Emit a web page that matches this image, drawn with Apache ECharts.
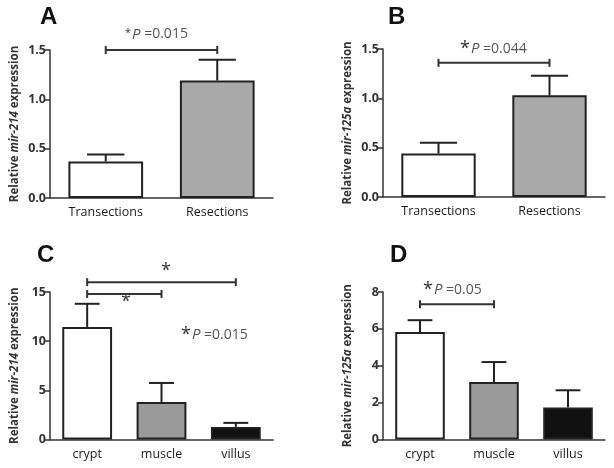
<!DOCTYPE html>
<html><head><meta charset="utf-8">
<script src="https://cdn.jsdelivr.net/npm/echarts@6/dist/echarts.min.js"></script>
<style>html,body{margin:0;padding:0;background:#fff}#c{width:614px;height:468px}</style>
</head><body><div id="c"></div>
<script>
// ---- data ----
const catsTop = ['Transections', 'Resections'];
const catsBottom = ['crypt', 'muscle', 'villus'];
const meanA = [0.37, 1.19];
const semA = [0.07, 0.21];
const meanB = [0.44, 1.03];
const semB = [0.11, 0.20];
const meanC = [11.45, 3.82, 1.28];
const semC = [2.35, 1.93, 0.41];
const meanD = [5.83, 3.12, 1.73];
const semD = [0.64, 1.08, 0.94];
const ticksTop = { min: 0, max: 1.5, interval: 0.5 };
const ticksC = { min: 0, max: 15, interval: 5 };
const ticksD = { min: 0, max: 8, interval: 2 };
// significance brackets: [fromCategory, toCategory, yLevel]
const brA = [[0, 1, 1.5]];
const brB = [[0, 1, 1.36]];
const brC = [[0, 2, 16.0], [0, 1, 14.8]];
const brD = [[0, 1, 7.33]];
const fillTop = ['#ffffff', '#a9a9a9'];
const fillBottom = ['#ffffff', '#9a9a9a', '#111111'];

const FONT = '"Open Sans", "Liberation Sans", sans-serif';
const grids = [
  { left: 50, top: 50, width: 223, height: 148 },
  { left: 383, top: 49, width: 222, height: 148 },
  { left: 50, top: 292, width: 223, height: 147.5 },
  { left: 383, top: 292, width: 222, height: 147.5 }
];
function xAx(i, cats) {
  return { type: 'category', gridIndex: i, data: cats, boundaryGap: true,
    axisLine: { lineStyle: { color: '#333', width: 1.5 } }, axisTick: { show: false },
    axisLabel: { color: '#1a1a1a', fontSize: 12.5, fontFamily: FONT, margin: 8 } };
}
function yAx(i, t, fmt, gene) {
  return { type: 'value', gridIndex: i, min: t.min, max: t.max, interval: t.interval,
    splitLine: { show: false },
    axisLine: { show: true, lineStyle: { color: '#333', width: 1.5 } },
    axisTick: { show: true, length: 5, lineStyle: { color: '#333', width: 1.5 } },
    axisLabel: { color: '#333', fontSize: 12.5, fontWeight: 'bold', fontFamily: FONT, margin: 4, formatter: fmt },
    name: '{n|Relative }{i|' + gene + '}{n| expression}', nameLocation: 'middle', nameRotate: 90, nameGap: 29,
    nameTextStyle: { rich: {
      n: { fontSize: 11.5, fontWeight: 'bold', color: '#333', fontFamily: FONT },
      i: { fontSize: 11.5, fontWeight: 'bold', fontStyle: 'italic', color: '#333', fontFamily: FONT } } } };
}
function bars(i, vals, fills) {
  return { type: 'bar', xAxisIndex: i, yAxisIndex: i, barWidth: '67%', z: 2,
    data: vals.map((v, k) => ({ value: v, itemStyle: { color: fills[k] } })),
    itemStyle: { borderColor: '#222', borderWidth: 2 } };
}
function errs(i, means, sems) {
  return { type: 'custom', xAxisIndex: i, yAxisIndex: i, z: 3,
    data: means.map((m, k) => [k, m, m + sems[k]]),
    renderItem: function (params, api) {
      const b = api.coord([api.value(0), api.value(1)]);
      const t = api.coord([api.value(0), api.value(2)]);
      const hw = api.size([1, 0])[0] * 0.67 / 4;
      const st = { stroke: '#222', lineWidth: 2 };
      return { type: 'group', children: [
        { type: 'line', shape: { x1: b[0], y1: b[1], x2: t[0], y2: t[1] }, style: st },
        { type: 'line', shape: { x1: t[0] - hw, y1: t[1], x2: t[0] + hw, y2: t[1] }, style: st } ] };
    } };
}
function brackets(i, br) {
  return { type: 'custom', xAxisIndex: i, yAxisIndex: i, z: 3, clip: false,
    data: br,
    renderItem: function (params, api) {
      const a = api.coord([api.value(0), api.value(2)]);
      const c = api.coord([api.value(1), api.value(2)]);
      const st = { stroke: '#333', lineWidth: 2 };
      return { type: 'group', children: [
        { type: 'line', shape: { x1: a[0], y1: a[1], x2: c[0], y2: c[1] }, style: st },
        { type: 'line', shape: { x1: a[0], y1: a[1] - 4, x2: a[0], y2: a[1] + 4 }, style: st },
        { type: 'line', shape: { x1: c[0], y1: c[1] - 4, x2: c[0], y2: c[1] + 4 }, style: st } ] };
    } };
}
function pText(x, y, val, starSize) {
  return { type: 'text', left: x, top: y, style: {
    text: '{s|*}{p|P}{n| =' + val + '}', fontFamily: FONT,
    rich: {
      s: { fontSize: starSize, fill: '#333', fontFamily: FONT, verticalAlign: 'top', padding: [0, 1, 0, 0] },
      p: { fontSize: 15, fill: '#555', fontStyle: 'italic', fontFamily: FONT },
      n: { fontSize: 14, fill: '#555', fontFamily: FONT } } } };
}
function label(x, y, t) {
  return { type: 'text', left: x, top: y, style: { text: t, fontSize: 24, fontWeight: 'bold', fill: '#111', fontFamily: '"Liberation Sans", Arial, sans-serif' } };
}
function star(x, y) {
  return { type: 'text', left: x, top: y, style: { text: '*', fontSize: 18, fill: '#333', fontFamily: FONT } };
}

const chart = echarts.init(document.getElementById('c'), null, { renderer: 'canvas' });
const fmt1 = v => v.toFixed(1);
const fmt0 = v => String(v);
chart.setOption({
  animation: false,
  backgroundColor: '#fff',
  grid: grids,
  xAxis: [xAx(0, catsTop), xAx(1, catsTop), xAx(2, catsBottom), xAx(3, catsBottom)],
  yAxis: [yAx(0, ticksTop, fmt1, 'mir-214'), yAx(1, ticksTop, fmt1, 'mir-125a'),
          yAx(2, ticksC, fmt0, 'mir-214'), yAx(3, ticksD, fmt0, 'mir-125a')],
  series: [
    bars(0, meanA, fillTop), errs(0, meanA, semA), brackets(0, brA),
    bars(1, meanB, fillTop), errs(1, meanB, semB), brackets(1, brB),
    bars(2, meanC, fillBottom), errs(2, meanC, semC), brackets(2, brC),
    bars(3, meanD, fillBottom), errs(3, meanD, semD), brackets(3, brD)
  ],
  graphic: [
    label(40, 5, 'A'), label(388, 5, 'B'), label(37, 243, 'C'), label(390, 243, 'D'),
    pText(125, 27, '0.015', 11),
    pText(460, 40, '0.044', 18),
    star(161, 262), star(121, 293),
    pText(181, 326, '0.015', 18),
    pText(423, 281, '0.05', 18)
  ]
});
</script></body></html>
